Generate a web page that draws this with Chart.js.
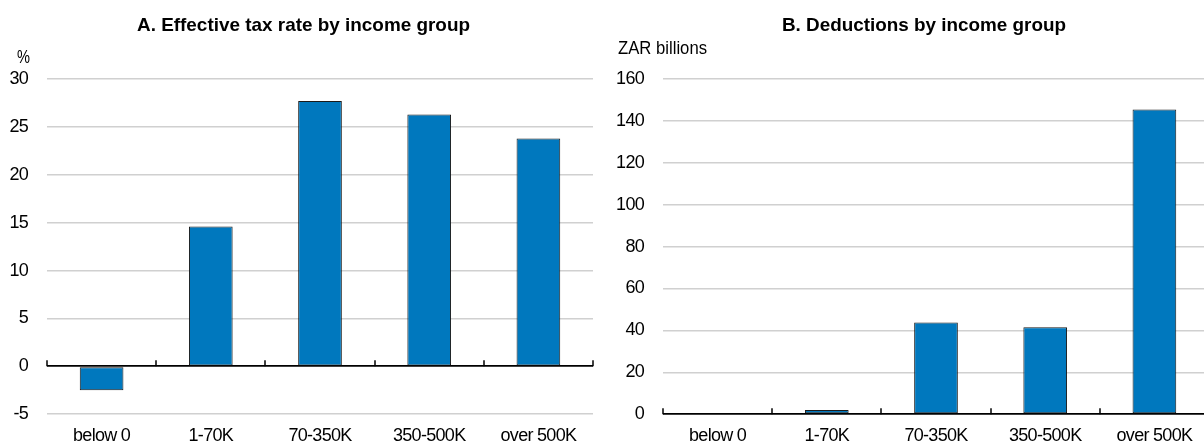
<!DOCTYPE html>
<html>
<head>
<meta charset="utf-8">
<script src="https://cdn.jsdelivr.net/npm/chart.js@4/dist/chart.umd.min.js"></script>
<style>
  html, body { margin:0; padding:0; background:#fff; overflow:hidden; width:1204px; height:444px; }
  #wrap { position:relative; width:1204px; height:444px; overflow:hidden; }
  canvas { position:absolute; top:0; }
  .t { position:absolute; color:#000; white-space:nowrap; line-height:22px; transform-origin:0 50%; }
  .title { font-weight:bold; font-size:19px; }
  .unit { font-size:18px; }
</style>
</head>
<body>
<div id="wrap">
  <canvas id="cA" width="600" height="444" style="left:0;width:600px;height:444px"></canvas>
  <canvas id="cB" width="609" height="444" style="left:600px;width:609px;height:444px"></canvas>
  <div class="t title" id="tA" style="top:14px">A. Effective tax rate by income group</div>
  <div class="t title" id="tB" style="top:14px">B. Deductions by income group</div>
  <div class="t unit" id="uA" style="left:17px;top:46px">%</div>
  <div class="t unit" id="uB" style="left:618px;top:37px">ZAR billions</div>
</div>
<script>
const categories = ['below 0', '1-70K', '70-350K', '350-500K', 'over 500K'];
const taxRate = [-2.5, 14.6, 27.7, 26.3, 23.8];
const deductions = [0.3, 2.0, 43.8, 41.5, 145.5];
const taxTicks = { min: -5, max: 30, step: 5 };
const dedTicks = { min: 0, max: 160, step: 20 };

// pick a narrow sans if installed, otherwise tighten Liberation Sans
function hasFont(f) {
  const c = document.createElement('canvas').getContext('2d');
  const s = 'abcdefghijklmnopqrstuvwxyz0123456789ABCDEFGHIJK';
  c.font = "40px monospace"; const m = c.measureText(s).width;
  c.font = "40px serif"; const se = c.measureText(s).width;
  c.font = "40px '" + f + "', monospace"; const a = c.measureText(s).width;
  c.font = "40px '" + f + "', serif"; const b = c.measureText(s).width;
  return a !== m && b !== se;
}
const NARROW = ['Liberation Sans Narrow', 'Arial Narrow'].find(hasFont);
const FONT = NARROW ? "'" + NARROW + "', 'Liberation Sans', Arial, sans-serif" : "'Liberation Sans', Arial, sans-serif";
const TITLE_FONT = "'Liberation Sans', Arial, sans-serif";
const TICK_SIZE = NARROW ? 19 : 18;
const SPACING = NARROW ? '0px' : '-0.7px';

// HTML text: font + fit to the reference widths
const textBoxes = [
  { id: 'tA', cx: 303.5, w: 333, f: TITLE_FONT },
  { id: 'tB', cx: 924, w: 284, f: TITLE_FONT },
  { id: 'uA', w: 13, f: FONT },
  { id: 'uB', w: 89, f: FONT }
];
textBoxes.forEach(b => {
  const el = document.getElementById(b.id);
  el.style.fontFamily = b.f;
  const actual = el.getBoundingClientRect().width;
  const k = b.w / actual;
  el.style.transform = 'scaleX(' + k.toFixed(4) + ')';
  if (b.cx !== undefined) el.style.left = (b.cx - b.w / 2) + 'px';
});

const BAR = '#0078be';

const textSpacing = {
  id: 'textSpacing',
  beforeUpdate(chart) { chart.ctx.letterSpacing = SPACING; },
  beforeDraw(chart) { chart.ctx.letterSpacing = SPACING; }
};

const catTicks = {
  id: 'catTicks',
  afterDatasetsDraw(chart) {
    const xs = chart.scales.x, ys = chart.scales.y, ctx = chart.ctx;
    const y0 = ys.getPixelForValue(0);
    ctx.save();
    ctx.strokeStyle = '#000';
    ctx.lineWidth = 1.5;
    for (let i = 0; i <= categories.length; i++) {
      const px = Math.round(xs.getPixelForValue(i - 0.5));
      ctx.beginPath();
      ctx.moveTo(px, y0);
      ctx.lineTo(px, y0 - 6);
      ctx.stroke();
    }
    ctx.restore();
  }
};

function makeChart(id, data, tk, yWidth, xHeight, padRight) {
  return new Chart(document.getElementById(id), {
    type: 'bar',
    data: {
      labels: categories,
      datasets: [{
        data: data,
        backgroundColor: BAR,
        borderColor: '#1a1a1a',
        borderWidth: 1,
        borderSkipped: false,
        barPercentage: 0.4,
        categoryPercentage: 1.0
      }]
    },
    options: {
      responsive: false,
      animation: false,
      devicePixelRatio: 1,
      layout: { padding: { top: 79, left: 0, right: padRight, bottom: 0 } },
      plugins: { legend: { display: false }, tooltip: { enabled: false } },
      scales: {
        x: {
          grid: { display: false },
          border: { display: false },
          ticks: { color: '#000', font: { family: FONT, size: TICK_SIZE }, padding: 3, maxRotation: 0, autoSkip: false },
          afterFit: s => { s.height = xHeight; }
        },
        y: {
          min: tk.min, max: tk.max,
          border: { display: false },
          grid: {
            drawTicks: false,
            color: c => c.tick.value === 0 ? '#000' : '#d0d0d0',
            lineWidth: c => c.tick.value === 0 ? 1.8 : 1.5
          },
          ticks: { stepSize: tk.step, color: '#000', font: { family: FONT, size: TICK_SIZE }, padding: 19 },
          afterFit: s => { s.width = yWidth; }
        }
      }
    },
    plugins: [textSpacing, catTicks]
  });
}

makeChart('cA', taxRate, taxTicks, 47, 27, 7);
makeChart('cB', deductions, dedTicks, 63, 29, 0);
</script>
</body>
</html>
